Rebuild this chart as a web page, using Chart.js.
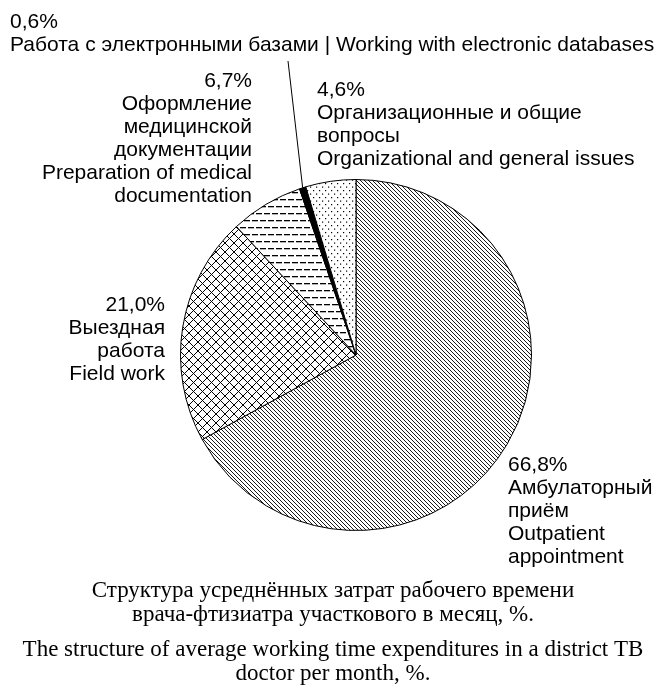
<!DOCTYPE html>
<html>
<head>
<meta charset="utf-8">
<script src="https://cdn.jsdelivr.net/npm/chart.js@4/dist/chart.umd.min.js"></script>
<style>
  html, body { margin: 0; padding: 0; background: #fff; }
  #wrap { width: 666px; height: 692px; position: relative; }
</style>
</head>
<body>
<div id="wrap"><canvas id="chart1"></canvas></div>
<script>
// данные
const categories = [
  'Амбулаторный приём | Outpatient appointment',
  'Выездная работа | Field work',
  'Оформление медицинской документации | Preparation of medical documentation',
  'Работа с электронными базами | Working with electronic databases',
  'Организационные и общие вопросы | Organizational and general issues'
];
const shares = [66.8, 21.0, 6.7, 0.6, 4.6];
const shareLabels = ['66,8%', '21,0%', '6,7%', '0,6%', '4,6%'];
const labelLines = [
  ['Амбулаторный', 'приём', 'Outpatient', 'appointment'],
  ['Выездная', 'работа', 'Field work'],
  ['Оформление', 'медицинской', 'документации', 'Preparation of medical', 'documentation'],
  ['Работа с электронными базами | Working with electronic databases'],
  ['Организационные и общие', 'вопросы', 'Organizational and general issues']
];
const captionLines = [
  'Структура усреднённых затрат рабочего времени',
  'врача-фтизиатра участкового в месяц, %.',
  'The structure of average working time expenditures in a district TB',
  'doctor per month, %.'
];

// где стоят подписи: x, baseline первой строки, выравнивание
const labelPos = [
  { x: 508, y: 471, align: 'left' },
  { x: 165, y: 311, align: 'right' },
  { x: 252, y: 87, align: 'right' },
  { x: 10, y: 28, align: 'left' },
  { x: 317, y: 96, align: 'left' }
];

function tile(w, h, draw) {
  const c = document.createElement('canvas');
  c.width = w; c.height = h;
  const g = c.getContext('2d');
  g.fillStyle = '#fff';
  g.fillRect(0, 0, w, h);
  g.strokeStyle = '#000';
  g.fillStyle = '#000';
  draw(g);
  return g.createPattern(c, 'repeat');
}

// штриховки
function makePatterns() {
  const diag = tile(4, 4, g => {
    g.lineWidth = 0.9;
    g.beginPath();
    g.moveTo(-1, -1); g.lineTo(5, 5);
    g.moveTo(-1, 3); g.lineTo(1, 5);
    g.moveTo(3, -1); g.lineTo(5, 1);
    g.stroke();
  });
  const cross = tile(9, 9, g => {
    g.lineWidth = 1;
    g.beginPath();
    g.moveTo(0, 0); g.lineTo(9, 9);
    g.moveTo(9, 0); g.lineTo(0, 9);
    g.stroke();
  });
  const dashes = tile(16, 14, g => {
    g.fillRect(0, 3, 6, 1.3);
    g.fillRect(8, 3, 6, 1.3);
    g.fillRect(4, 10, 6, 1.3);
    g.fillRect(12, 10, 4, 1.3);
    g.fillRect(0, 10, 2, 1.3);
  });
  const dots = tile(6, 7, g => {
    g.fillRect(1, 1, 1.2, 1.2);
    g.fillRect(4, 4.5, 1.2, 1.2);
  });
  return [diag, cross, dashes, '#000', dots];
}

const labelPlugin = {
  id: 'labelPlugin',
  afterDraw(chart) {
    const ctx = chart.ctx;
    const arcs = chart.getDatasetMeta(0).data;
    ctx.save();

    // выноска к тонкому сектору
    const a = arcs[3];
    const mid = (a.startAngle + a.endAngle) / 2;
    ctx.strokeStyle = '#000';
    ctx.lineWidth = 1;
    ctx.beginPath();
    ctx.moveTo(288, 61);
    ctx.lineTo(a.x + Math.cos(mid) * a.outerRadius, a.y + Math.sin(mid) * a.outerRadius);
    ctx.stroke();

    ctx.fillStyle = '#000';
    ctx.font = '21px "Liberation Sans", Arial, sans-serif';
    ctx.textBaseline = 'alphabetic';
    const lh = 23;
    labelPos.forEach((p, i) => {
      ctx.textAlign = p.align;
      const lines = [shareLabels[i]].concat(labelLines[i]);
      lines.forEach((t, k) => ctx.fillText(t, p.x, p.y + k * lh));
    });

    // подпись рисунка
    ctx.textAlign = 'center';
    ctx.font = '23px "Liberation Serif", "Times New Roman", serif';
    const capY = [597, 621, 656, 680];
    captionLines.forEach((t, k) => ctx.fillText(t, 333, capY[k]));
    ctx.restore();
  }
};

function initChart() {
  new Chart(document.getElementById('chart1'), {
    type: 'pie',
    data: {
      labels: categories,
      datasets: [{
        data: shares,
        backgroundColor: makePatterns(),
        borderColor: '#000',
        borderWidth: 1
      }]
    },
    options: {
      responsive: true,
      maintainAspectRatio: false,
      animation: false,
      layout: { padding: { left: 180, right: 134, top: 179, bottom: 161 } },
      plugins: {
        legend: { display: false },
        tooltip: { enabled: false },
        title: { display: false }
      }
    },
    plugins: [labelPlugin]
  });
}

document.addEventListener('DOMContentLoaded', initChart);
</script>
</body>
</html>
